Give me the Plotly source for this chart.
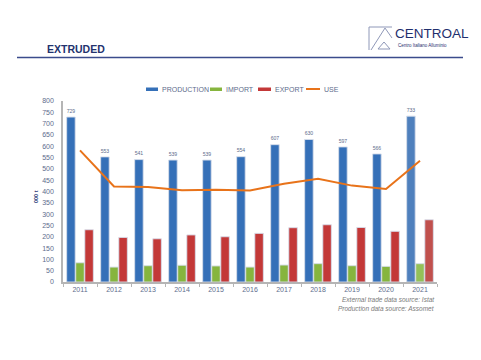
import plotly.graph_objects as go

years = [str(y) for y in range(2011, 2022)]
production = [729, 553, 541, 539, 539, 554, 607, 630, 597, 566, 733]
imports = [85, 66, 72, 74, 71, 66, 75, 81, 72, 69, 81]
exports = [231, 197, 191, 208, 200, 215, 240, 253, 241, 224, 275]
use = [582, 422, 420, 405, 408, 404, 434, 456, 426, 411, 536]
series_names = ["PRODUCTION", "IMPORT", "EXPORT", "USE"]

# plot area in pixels: x 63..437, y 101..282
L, R, T, B = 63, 437, 101, 282
W, H = 481, 360


def px(x):
    return (x - L) / (R - L)


def py(y):
    return (B - y) / (B - T)


n = len(years)
PROD_C, IMP_C, EXP_C, USE_C = "#3570b8", "#86b53e", "#c33838", "#e8731a"
prod_colors = [PROD_C] * (n - 1) + ["#4f80bd"]
imp_colors = [IMP_C] * (n - 1) + ["#94c058"]
exp_colors = [EXP_C] * (n - 1) + ["#c0504d"]
outline = dict(color="rgba(215,222,235,0.9)", width=1)

FONT = "Liberation Sans, Arial, sans-serif"
TXT_C = "#5e6c8c"
tick_font = dict(family=FONT, size=7, color=TXT_C)

fig = go.Figure()
fig.add_trace(go.Bar(
    x=years, y=production, name=series_names[0],
    marker=dict(color=prod_colors, line=outline),
    text=[str(v) for v in production], textposition="outside",
    textfont=dict(family=FONT, size=7.5, color=TXT_C),
    cliponaxis=False,
))
fig.add_trace(go.Bar(
    x=years, y=imports, name=series_names[1],
    marker=dict(color=imp_colors, line=outline),
))
fig.add_trace(go.Bar(
    x=years, y=exports, name=series_names[2],
    marker=dict(color=exp_colors, line=outline),
))
fig.add_trace(go.Scatter(
    x=years, y=use, name=series_names[3], mode="lines",
    line=dict(color=USE_C, width=2),
))

LOGO_C = "#8f98b8"
shapes = [
    # title underline
    dict(type="line", xref="paper", yref="paper",
         x0=px(17), x1=px(463), y0=py(57.5), y1=py(57.5),
         line=dict(color="#3b4b8c", width=1.5)),
    # logo strokes
    dict(type="line", xref="paper", yref="paper",
         x0=px(369), x1=px(369), y0=py(27), y1=py(50),
         line=dict(color=LOGO_C, width=1)),
    dict(type="line", xref="paper", yref="paper",
         x0=px(369), x1=px(392), y0=py(27), y1=py(27),
         line=dict(color=LOGO_C, width=1)),
    dict(type="line", xref="paper", yref="paper",
         x0=px(371), x1=px(385), y0=py(50), y1=py(28),
         line=dict(color=LOGO_C, width=1)),
    dict(type="line", xref="paper", yref="paper",
         x0=px(385), x1=px(392), y0=py(28), y1=py(38),
         line=dict(color=LOGO_C, width=1)),
    dict(type="path", xref="paper", yref="paper",
         path=f"M {px(378)},{py(49)} L {px(384)},{py(42)} L {px(390)},{py(49)} Z",
         line=dict(color=LOGO_C, width=1)),
]

# custom compact legend (swatches + labels)
legend_items = [
    (series_names[0], PROD_C, "bar", 146, 158),
    (series_names[1], IMP_C, "bar", 210, 222),
    (series_names[2], EXP_C, "bar", 258, 271),
    (series_names[3], USE_C, "line", 306, 320),
]
annotations = []
for name, col, kind, x0, x1 in legend_items:
    if kind == "bar":
        shapes.append(dict(type="rect", xref="paper", yref="paper",
                           x0=px(x0), x1=px(x1), y0=py(91), y1=py(87.5),
                           fillcolor=col, line=dict(width=0)))
    else:
        shapes.append(dict(type="line", xref="paper", yref="paper",
                           x0=px(x0), x1=px(x1), y0=py(89), y1=py(89),
                           line=dict(color=col, width=2)))
    annotations.append(dict(text=name, x=px(x1 + 1.5), y=py(89.3), xref="paper", yref="paper",
                            xanchor="left", yanchor="middle", showarrow=False,
                            font=dict(family=FONT, size=7, color=TXT_C)))

annotations += [
    dict(text="<b>EXTRUDED</b>", x=px(45), y=py(49), xref="paper", yref="paper",
         xanchor="left", yanchor="middle", showarrow=False,
         font=dict(family=FONT, size=10.5, color="#23336e")),
    dict(text="CENTROAL", x=px(393), y=py(33), xref="paper", yref="paper",
         xanchor="left", yanchor="middle", showarrow=False,
         font=dict(family=FONT, size=13.5, color="#1f2f6e")),
    dict(text="Centro Italiano Alluminio", x=px(396), y=py(45.5), xref="paper", yref="paper",
         xanchor="left", yanchor="middle", showarrow=False,
         font=dict(family=FONT, size=4.5, color="#1f2f6e")),
    dict(text="<b>000 t</b>", x=px(36), y=py(197), xref="paper", yref="paper",
         xanchor="center", yanchor="middle", showarrow=False, textangle=-90,
         font=dict(family=FONT, size=5.5, color="#2d3d78")),
    dict(text="<i>External trade data source: Istat</i>", x=1, y=py(299.5), xref="paper", yref="paper",
         xanchor="right", yanchor="middle", showarrow=False,
         font=dict(family=FONT, size=6.5, color="#7a7a7a")),
    dict(text="<i>Production data source: Assomet</i>", x=1, y=py(308), xref="paper", yref="paper",
         xanchor="right", yanchor="middle", showarrow=False,
         font=dict(family=FONT, size=6.5, color="#7a7a7a")),
]

fig.update_layout(
    width=W, height=H,
    margin=dict(l=L, r=W - R, t=T, b=H - B, pad=0),
    paper_bgcolor="white", plot_bgcolor="white",
    barmode="group", bargap=0.2, bargroupgap=0.06,
    showlegend=False,
    xaxis=dict(showgrid=False, showline=True, linecolor="#b5b5b5", linewidth=1.5,
               ticks="outside", tickson="boundaries", ticklen=3, tickcolor="#b5b5b5",
               tickfont=tick_font, fixedrange=True),
    yaxis=dict(range=[0, 800], dtick=50, showgrid=False, showline=True,
               linecolor="#b5b5b5", linewidth=1.5, ticks="", ticklabelstandoff=6,
               tickfont=tick_font, zeroline=False, fixedrange=True),
    shapes=shapes,
    annotations=annotations,
)

fig.write_html("out.html")
